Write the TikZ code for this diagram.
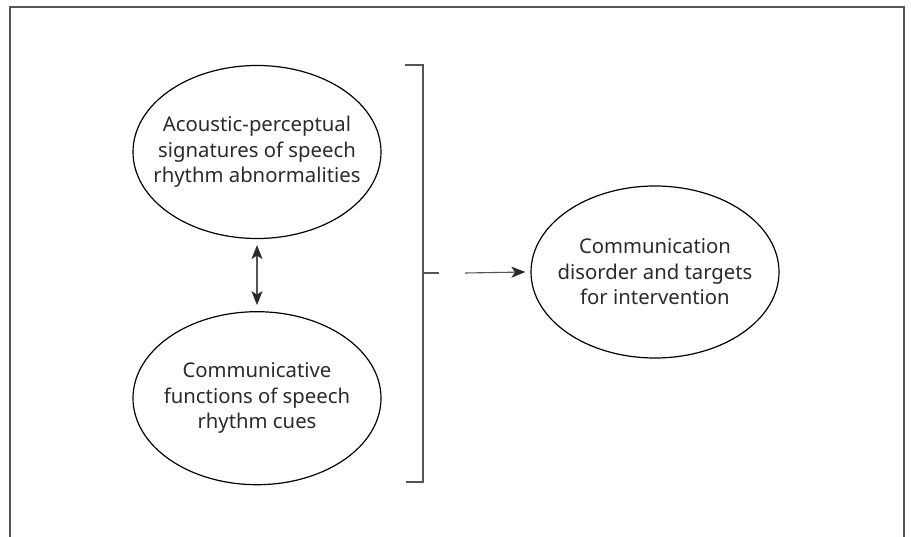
\documentclass[tikz,border=0pt]{standalone}
\usepackage{fontspec}
\setmainfont{Noto Sans}
\usetikzlibrary{shapes.geometric,positioning,arrows.meta}
\definecolor{txtgray}{HTML}{2A2A2A}
\definecolor{linegray}{HTML}{555555}
\begin{document}
\begin{tikzpicture}[
  x=1pt, y=-1pt,
  oval/.style={ellipse, draw, line width=1.2pt, minimum width=248pt, minimum height=173pt,
    inner sep=0pt},
  ovaltext/.style={align=center, text=txtgray, font=\fontsize{20.3}{25.5}\selectfont},
  link/.style={linegray, line width=1.1pt},
  >={Stealth[length=14pt,width=11pt,inset=3.5pt,color=txtgray]},
  font=\small
]
\useasboundingbox (0,0) rectangle (911,537);
% frame, open at the bottom
\draw[linegray, line width=1.5pt] (10,537) -- (10,7) -- (904,7) -- (904,537);

\node[oval, label={[ovaltext]center:Acoustic-perceptual\\signatures of speech\\rhythm abnormalities}] (acoustic) at (257,152) {};
\node[oval, below=72pt of acoustic, label={[ovaltext]center:Communicative\\functions of speech\\rhythm cues}] (functions) {};
\node[oval, minimum height=172pt, label={[ovaltext]center:Communication\\disorder and targets\\for intervention}] (disorder) at (655,272) {};

% bracket
\coordinate (btop) at (423,65);
\coordinate (bbot) at (423,482);
\coordinate (bmid) at (423,273);
\draw[link] ([xshift=-18pt]btop) -- (btop) -- (bbot) -- ([xshift=-17pt]bbot);
\draw[link] (bmid) -- ([xshift=16pt]bmid);

% arrows
\draw[link, ->] ([xshift=42pt]bmid) -- ([xshift=-5pt]disorder.west);
\draw[link, <->] ([yshift=-6pt]acoustic.south) -- ([yshift=6pt]functions.north);
\end{tikzpicture}
\end{document}
